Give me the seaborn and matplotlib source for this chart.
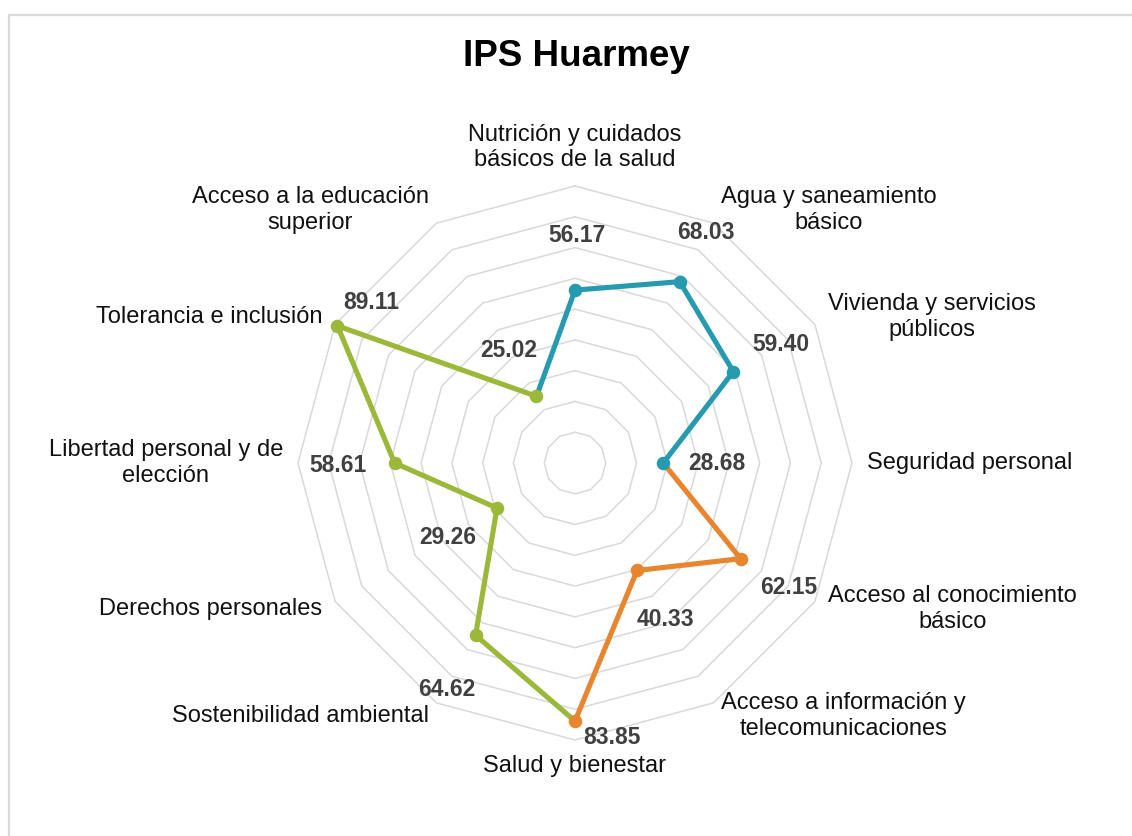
import numpy as np
import seaborn as sns
import matplotlib.pyplot as plt
from matplotlib.patches import Rectangle

title = "IPS Huarmey"
categories = [
    "Nutrición y cuidados\nbásicos de la salud",
    "Agua y saneamiento\nbásico",
    "Vivienda y servicios\npúblicos",
    "Seguridad personal",
    "Acceso al conocimiento\nbásico",
    "Acceso a información y\ntelecomunicaciones",
    "Salud y bienestar",
    "Sostenibilidad ambiental",
    "Derechos personales",
    "Libertad personal y de\nelección",
    "Tolerancia e inclusión",
    "Acceso a la educación\nsuperior",
]
values = [56.17, 68.03, 59.40, 28.68, 62.15, 40.33, 83.85, 64.62, 29.26, 58.61, 89.11, 25.02]

# category indices each coloured segment runs through (first one is shared with previous series)
blue_idx = [11, 0, 1, 2, 3]
orange_idx = [3, 4, 5, 6]
green_idx = [6, 7, 8, 9, 10, 11]
series_colors = ["#269BB0", "#E8862F", "#9BB83A"]

grid_levels = [10, 20, 30, 40, 50, 60, 70, 80, 90]

# data label offsets in pixels (dx right, dy down)
label_offsets = [(2, -55), (26, -49), (48, -27), (54, 1), (48, 29), (28, 49),
                 (37, 16), (-29, 54), (-49, 29), (-57, 2), (34, -23), (-28, -46)]

sns.set_theme(style="white")
plt.rcParams["font.family"] = ["Liberation Sans", "DejaVu Sans"]

n = len(categories)
theta = np.deg2rad(90 - np.arange(n) * 360 / n)
vals = np.array(values)
px = vals * np.cos(theta)
py = vals * np.sin(theta)

fig = plt.figure(figsize=(11.32, 8.36), dpi=100)
ax = fig.add_axes([0, 0, 1, 1])
scale = 277 / 90  # pixels per unit
ax.set_xlim(-575 / scale, (1132 - 575) / scale)
ax.set_ylim(-(836 - 463) / scale, 463 / scale)
ax.set_aspect("equal")
ax.axis("off")

# chart border
fig.patches.append(Rectangle((9 / 1132, -0.1), 1.2, 1.1 - 15 / 836, transform=fig.transFigure,
                             fill=False, edgecolor="#D9D9D9", linewidth=1.6, zorder=0))

# polygon gridlines
ring = np.append(np.arange(n), 0)
for lev in grid_levels:
    ax.plot(lev * np.cos(theta[ring]), lev * np.sin(theta[ring]), color="#D9D9D9", lw=1.1, zorder=1)

# series
for idx, col in zip([blue_idx, orange_idx, green_idx], series_colors):
    sns.lineplot(x=px[idx], y=py[idx], sort=False, estimator=None, color=col, linewidth=3.7,
                 ax=ax, zorder=2, solid_joinstyle="round", solid_capstyle="round")
for idx, col in zip([blue_idx, orange_idx, green_idx], series_colors):
    sns.scatterplot(x=px[idx[1:]], y=py[idx[1:]], color=col, s=95, linewidth=0, ax=ax, zorder=3)

# data labels
for i in range(n):
    dx, dy = label_offsets[i]
    ax.annotate(f"{values[i]:.2f}", (px[i], py[i]), xytext=(dx, -dy), textcoords="offset pixels",
                ha="center", va="center", fontsize=16.5, fontweight="bold", color="#404040", zorder=4)

# category labels
r_lab = 292 / scale
for i, lab in enumerate(categories):
    x, y = r_lab * np.cos(theta[i]), r_lab * np.sin(theta[i])
    if i == 0:
        ha, va = "center", "bottom"
    elif i == n // 2:
        ha, va = "center", "top"
    elif i < n // 2:
        ha, va = "left", "center"
    else:
        ha, va = "right", "center"
    ax.text(x, y, lab, ha=ha, va=va, multialignment="center", fontsize=17, color="#111111")

fig.text(576 / 1132, 1 - 57 / 836, title, ha="center", va="center", fontsize=26.5,
         fontweight="bold", color="black")

fig.savefig("out.png", dpi=100, facecolor="white")
